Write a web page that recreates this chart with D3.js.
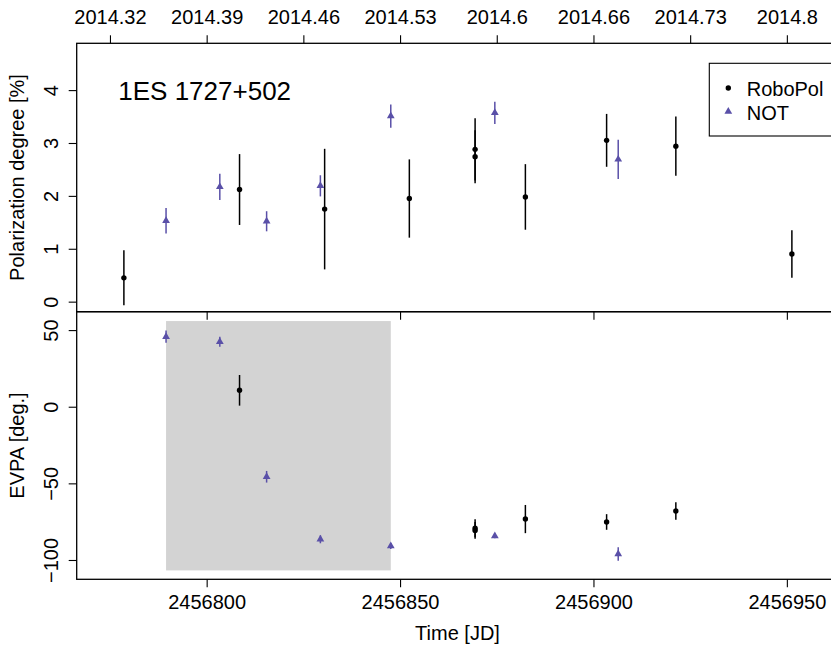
<!DOCTYPE html>
<html>
<head>
<meta charset="utf-8">
<script src="https://cdn.jsdelivr.net/npm/d3@7"></script>
<style>
  body { margin: 0; background: #fff; }
  svg { display: block; font-family: "Liberation Sans", Arial, Helvetica, sans-serif; }
  .box { fill: none; stroke: #000; stroke-width: 1.3; }
  .axis path.domain { display: none; }
  .axis line { stroke: #000; stroke-width: 1.1; }
  .axis text { font-size: 20px; fill: #000; font-family: "Liberation Sans", Arial, Helvetica, sans-serif; }
  .label { font-size: 20px; fill: #000; }
</style>
</head>
<body>
<svg class="scene"></svg>
<script>

//
// data
//

// RoboPol
var robo_jd = [2456778.6, 2456808.5, 2456830.5, 2456852.4, 2456869.4, 2456869.4, 2456882.4, 2456903.4, 2456921.3, 2456951.3];
var robo_pd = [0.45, 2.12, 1.75, 1.95, 2.88, 2.74, 1.98, 3.05, 2.94, 0.90];
var robo_pd_err = [0.52, 0.67, 1.14, 0.74, 0.59, 0.50, 0.62, 0.50, 0.56, 0.45];
var robo_evpa = [null, 10.7, null, null, -79.3, -80.7, -73.3, -75.2, -68.0, null];
var robo_evpa_err = [null, 10.0, null, null, 5.8, 5.5, 9.2, 5.1, 5.7, null];

// NOT
var not_jd = [2456789.5, 2456803.4, 2456815.5, 2456829.4, 2456847.6, 2456874.5, 2456906.4];
var not_pd = [1.53, 2.17, 1.52, 2.19, 3.51, 3.57, 2.69];
var not_pd_err = [0.24, 0.25, 0.19, 0.20, 0.22, 0.21, 0.37];
var not_evpa = [45.7, 42.4, -45.7, -86.5, -90.9, -84.3, -96.1];
var not_evpa_err = [4.0, 3.3, 3.8, 2.6, 2.0, 1.5, 4.4];

// shaded rotation interval
var rot_jd = [2456789.5, 2456847.6];
var rot_evpa = [55.9, -106.8];

// ticks
var jd_ticks = [2456800, 2456850, 2456900, 2456950];
var year_ticks = [2456775, 2456800, 2456825, 2456850, 2456875, 2456900, 2456925, 2456950];
var year_labels = ["2014.32", "2014.39", "2014.46", "2014.53", "2014.6", "2014.66", "2014.73", "2014.8"];
var pd_ticks = [0, 1, 2, 3, 4];
var evpa_ticks = [-100, -50, 0, 50];

var series = ["RoboPol", "NOT"];
var colors = { "RoboPol": "#000000", "NOT": "#5a50a8" };

//
// layout
//

var width = 831, height = 645;
var left = 76.7, right = 838.3;
var top1 = 43.3, split = 311.7, bottom2 = 579.3;

var scene = d3.select(".scene")
    .attr("width", width)
    .attr("height", height);

var x = d3.scaleLinear().domain([2456766.4, 2456963.3]).range([left, right]);
var y1 = d3.scaleLinear().domain([-0.19, 4.885]).range([split, top1]);
var y2 = d3.scaleLinear().domain([-112.6, 62]).range([bottom2, split]);

function minus(v) { return String(v).replace("-", "\u2212"); }

//
// shaded region (bottom panel)
//

scene.append("rect")
    .attr("x", x(rot_jd[0]))
    .attr("y", y2(rot_evpa[0]))
    .attr("width", x(rot_jd[1]) - x(rot_jd[0]))
    .attr("height", y2(rot_evpa[1]) - y2(rot_evpa[0]))
    .attr("fill", "#d3d3d3");

//
// axes
//

// top year axis
scene.append("g")
    .attr("class", "axis")
    .attr("transform", "translate(0," + top1 + ")")
    .call(d3.axisTop(x).tickValues(year_ticks).tickSize(8).tickPadding(11.3)
        .tickFormat(function (d, i) { return year_labels[i]; }));

// inner ticks at the top of the bottom panel
scene.append("g")
    .attr("class", "axis")
    .attr("transform", "translate(0," + split + ")")
    .call(d3.axisBottom(x).tickValues(jd_ticks).tickSize(8).tickFormat(""));

// bottom JD axis
scene.append("g")
    .attr("class", "axis")
    .attr("transform", "translate(0," + bottom2 + ")")
    .call(d3.axisBottom(x).tickValues(jd_ticks).tickSize(8).tickPadding(7.5).tickFormat(d3.format("d")));

// left axes with rotated labels
function left_axis(scale, ticks) {
    var g = scene.append("g")
        .attr("class", "axis")
        .attr("transform", "translate(" + left + ",0)")
        .call(d3.axisLeft(scale).tickValues(ticks).tickSize(8).tickFormat(minus));
    g.selectAll(".tick text")
        .attr("transform", "rotate(-90)")
        .attr("x", 0)
        .attr("y", -18.5)
        .attr("dy", 0)
        .style("text-anchor", "middle");
}
left_axis(y1, pd_ticks);
left_axis(y2, evpa_ticks);

// boxes
scene.append("rect").attr("class", "box")
    .attr("x", left).attr("y", top1).attr("width", right - left).attr("height", split - top1);
scene.append("rect").attr("class", "box")
    .attr("x", left).attr("y", split).attr("width", right - left).attr("height", bottom2 - split);

// axis titles
scene.append("text")
    .attr("class", "label")
    .attr("transform", "translate(24," + (top1 + split) / 2 + ") rotate(-90)")
    .attr("text-anchor", "middle")
    .text("Polarization degree [%]");

scene.append("text")
    .attr("class", "label")
    .attr("transform", "translate(24," + (split + bottom2) / 2 + ") rotate(-90)")
    .attr("text-anchor", "middle")
    .text("EVPA [deg.]");

scene.append("text")
    .attr("class", "label")
    .attr("x", (left + right) / 2)
    .attr("y", 640)
    .attr("text-anchor", "middle")
    .text("Time [JD]");

// source name
scene.append("text")
    .attr("x", 118.3)
    .attr("y", 100)
    .attr("font-size", 26)
    .text("1ES 1727+502");

//
// points
//

var tri = d3.symbol().type(d3.symbolTriangle).size(26);

function draw(jd, val, err, yscale, name) {
    var pts = jd.map(function (d, i) { return { x: d, y: val[i], e: err[i] }; })
        .filter(function (d) { return d.y !== null; });
    var g = scene.append("g");
    g.selectAll("line")
        .data(pts)
        .enter().append("line")
        .attr("x1", function (d) { return x(d.x); })
        .attr("x2", function (d) { return x(d.x); })
        .attr("y1", function (d) { return yscale(d.y - d.e); })
        .attr("y2", function (d) { return yscale(d.y + d.e); })
        .attr("stroke", colors[name])
        .attr("stroke-width", 1.5);
    if (name === "RoboPol") {
        g.selectAll("circle")
            .data(pts)
            .enter().append("circle")
            .attr("cx", function (d) { return x(d.x); })
            .attr("cy", function (d) { return yscale(d.y); })
            .attr("r", 2.7)
            .attr("fill", colors[name]);
    } else {
        g.selectAll("path")
            .data(pts)
            .enter().append("path")
            .attr("d", tri)
            .attr("transform", function (d) { return "translate(" + x(d.x) + "," + yscale(d.y) + ")"; })
            .attr("fill", colors[name]);
    }
}

draw(robo_jd, robo_pd, robo_pd_err, y1, "RoboPol");
draw(not_jd, not_pd, not_pd_err, y1, "NOT");
draw(robo_jd, robo_evpa, robo_evpa_err, y2, "RoboPol");
draw(not_jd, not_evpa, not_evpa_err, y2, "NOT");

//
// legend
//

var legend = scene.append("g");
legend.append("rect")
    .attr("x", 709.3)
    .attr("y", 63.3)
    .attr("width", 140)
    .attr("height", 72.7)
    .attr("fill", "#fff")
    .attr("stroke", "#000")
    .attr("stroke-width", 1.1);

series.forEach(function (name, i) {
    var cy = 88 + i * 23.5;
    if (name === "RoboPol") {
        legend.append("circle").attr("cx", 728.3).attr("cy", cy).attr("r", 2.7).attr("fill", colors[name]);
    } else {
        legend.append("path").attr("d", tri).attr("transform", "translate(728.3," + cy + ")").attr("fill", colors[name]);
    }
    legend.append("text")
        .attr("class", "label")
        .attr("x", 746.7)
        .attr("y", cy + 8)
        .text(name);
});

</script>
</body>
</html>
